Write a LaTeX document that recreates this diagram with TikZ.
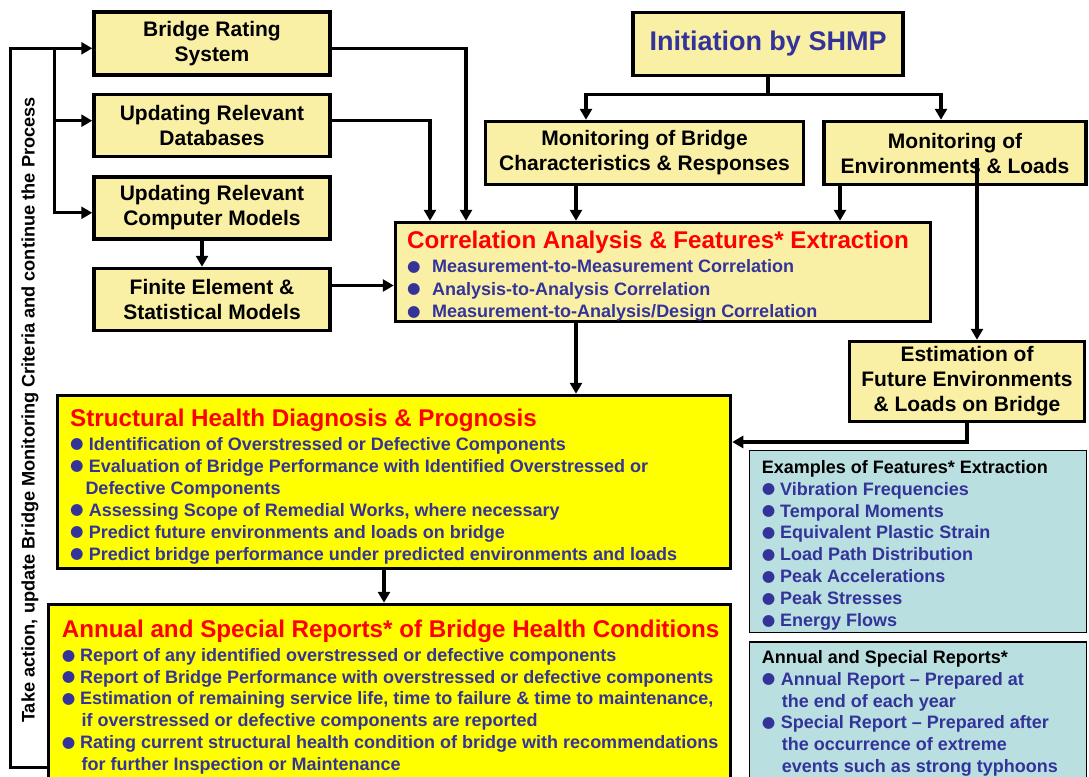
\documentclass[tikz,border=0pt]{standalone}
\usepackage{fontspec}
\setmainfont{Liberation Sans}
\newfontfamily\bulfont{DejaVu Sans}
\usetikzlibrary{arrows.meta}
\definecolor{paleY}{RGB}{250,240,165}
\definecolor{brightY}{RGB}{255,255,0}
\definecolor{paleB}{RGB}{185,223,224}
\definecolor{bcol}{RGB}{51,51,153}
\definecolor{rcol}{RGB}{255,0,0}
\newcommand\bl[1]{\makebox[#1][l]{\raisebox{1.3pt}{\bulfont\fontsize{15.5}{15}\selectfont\textcolor{bcol}{●}}}}
\begin{document}
\begin{tikzpicture}[x=1pt,y=-1pt,
  ybox/.style={draw, line width=3.5pt, fill=paleY, inner sep=0pt, align=center, font=\fontsize{21}{25}\selectfont\bfseries},
  bigbox/.style={draw, line width=3.5pt, fill=brightY, inner sep=0pt},
  bbox/.style={draw, line width=1.3pt, fill=paleB, inner sep=0pt},
  txt/.style={anchor=north west, inner sep=0pt, align=left, text=bcol},
  conn/.style={line width=3.2pt},
  arr/.style={conn, -{Triangle[length=11pt,width=12pt]}},
]
\useasboundingbox (0,0) rectangle (1089,776);
% boxes
\node[ybox, minimum width=236pt, minimum height=63pt] (rating) at (212,43.5) {Bridge Rating\\System};
\node[ybox, minimum width=236pt, minimum height=62pt] (db) at (212,125.5) {Updating Relevant\\Databases};
\node[ybox, minimum width=236pt, minimum height=62pt] (cm) at (212,208) {Updating Relevant\\Computer Models};
\node[ybox, minimum width=236pt, minimum height=62pt] (fe) at (212,299.5) {Finite Element \&\\Statistical Models};
\node[ybox, minimum width=270pt, minimum height=63pt, text=bcol, font=\fontsize{27}{30}\selectfont\bfseries] (init) at (768,44) {Initiation by SHMP};
\node[ybox, minimum width=318pt, minimum height=63pt] (monb) at (644.5,153) {Monitoring of Bridge\\Characteristics \& Responses};
\node[ybox, minimum width=262pt, minimum height=63pt] (mone) at (955,153) {Monitoring of\\Environments \& Loads};
\node[ybox, minimum width=535pt, minimum height=99pt] (corr) at (663,272) {};
\node[ybox, minimum width=235pt, minimum height=80pt] (est) at (967,381.5) {Estimation of\\Future Environments\\\& Loads on Bridge};
\node[bigbox, minimum width=673pt, minimum height=173pt] (sh) at (394,482) {};
\node[bigbox, minimum width=682pt, minimum height=195pt] (ann) at (389.5,702) {};
\node[bbox, minimum width=337pt, minimum height=182pt] (ex) at (918,541.5) {};
\node[bbox, minimum width=337pt, minimum height=158pt] (asr) at (918,721) {};
% box texts
\node[txt, font=\fontsize{18}{22.3}\selectfont\bfseries] (corrT) at (407,231)
 {{\fontsize{24.2}{24}\selectfont\color{rcol}Correlation Analysis \& Features* Extraction}\\[1.7pt]
  \bl{25pt}Measurement-to-Measurement Correlation\\
  \bl{25pt}Analysis-to-Analysis Correlation\\
  \bl{25pt}Measurement-to-Analysis/Design Correlation};
\node[txt, font=\fontsize{18}{22}\selectfont\bfseries] (shT) at (70,408.3)
 {{\fontsize{24.2}{24}\selectfont\color{rcol}Structural Health Diagnosis \& Prognosis}\\[2pt]
  \bl{18.7pt}Identification of Overstressed or Defective Components\\
  \bl{18.7pt}Evaluation of Bridge Performance with Identified Overstressed or\\
  \hspace*{15.3pt}Defective Components\\
  \bl{18.7pt}Assessing Scope of Remedial Works, where necessary\\
  \bl{18.7pt}Predict future environments and loads on bridge\\
  \bl{18.7pt}Predict bridge performance under predicted environments and loads};
\node[txt, font=\fontsize{18}{21.7}\selectfont\bfseries] (annT) at (61.6,620)
 {{\fontsize{24.2}{24}\selectfont\color{rcol}Annual and Special Reports* of Bridge Health Conditions}\\[2.1pt]
  \bl{18.4pt}Report of any identified overstressed or defective components\\
  \bl{18.4pt}Report of Bridge Performance with overstressed or defective components\\
  \bl{18.4pt}Estimation of remaining service life, time to failure \& time to maintenance,\\
  \hspace*{19.8pt}if overstressed or defective components are reported\\
  \bl{18.4pt}Rating current structural health condition of bridge with recommendations\\
  \hspace*{19.8pt}for further Inspection or Maintenance};
\node[txt, font=\fontsize{18}{21.9}\selectfont\bfseries] (exT) at (761.7,460)
 {{\color{black}Examples of Features* Extraction}\\
  \bl{18.3pt}Vibration Frequencies\\
  \bl{18.3pt}Temporal Moments\\
  \bl{18.3pt}Equivalent Plastic Strain\\
  \bl{18.3pt}Load Path Distribution\\
  \bl{18.3pt}Peak Accelerations\\
  \bl{18.3pt}Peak Stresses\\
  \bl{18.3pt}Energy Flows};
\node[txt, font=\fontsize{18}{21.9}\selectfont\bfseries] (asrT) at (761.7,650)
 {{\color{black}Annual and Special Reports*}\\
  \bl{19pt}Annual Report – Prepared at\\
  \hspace*{20pt}the end of each year\\
  \bl{19pt}Special Report – Prepared after\\
  \hspace*{20pt}the occurrence of extreme\\
  \hspace*{20pt}events such as strong typhoons};
\node[rotate=90, inner sep=0pt, font=\fontsize{18.2}{18}\selectfont\bfseries] (fbT) at (30,410)
 {Take action, update Bridge Monitoring Criteria and continue the Process};
% connectors
\coordinate (split) at ([yshift=-17.5pt]init.south);
\draw[conn] (init.south) -- (split);
\draw[arr] (split) -| ([xshift=-58.5pt]monb.north);
\draw[arr] (split) -| ([xshift=-14pt]mone.north);
\draw[arr] ([xshift=-68.5pt]monb.south) -- ([xshift=-87pt]corr.north);
\draw[arr] ([xshift=-115pt]mone.south) -- ([xshift=177pt]corr.north);
\draw[arr] ([yshift=-4.8pt]rating.east) -| ([xshift=-197pt]corr.north);
\draw[arr] ([yshift=4.8pt]db.east) -| ([xshift=-233pt]corr.north);
\draw[arr] ([xshift=-10pt]cm.south) -- ([xshift=-10pt]fe.north);
\draw[arr] ([yshift=14pt]fe.east) -- ([yshift=-13.5pt]corr.west);
\draw[arr] ([xshift=-87pt]corr.south) -- ([xshift=182pt]sh.north);
\draw[arr] ([xshift=-10pt]sh.south) -- ([xshift=-5.5pt]ann.north);
\draw[arr] ([xshift=22pt,yshift=-5pt]mone.center) -- ([xshift=10pt]est.north);
\draw[arr] (est.south) |- ([yshift=40pt]sh.east);
\draw[arr] ([yshift=-65.5pt]ann.west) -- ++(-36,0) |- ([yshift=-4.8pt]rating.west);
\coordinate (br) at ([xshift=-38pt,yshift=-4.8pt]rating.west);
\draw[arr] (br) |- ([yshift=4.8pt]db.west);
\draw[arr] (br) |- ([yshift=-4.8pt]cm.west);
\end{tikzpicture}
\end{document}
